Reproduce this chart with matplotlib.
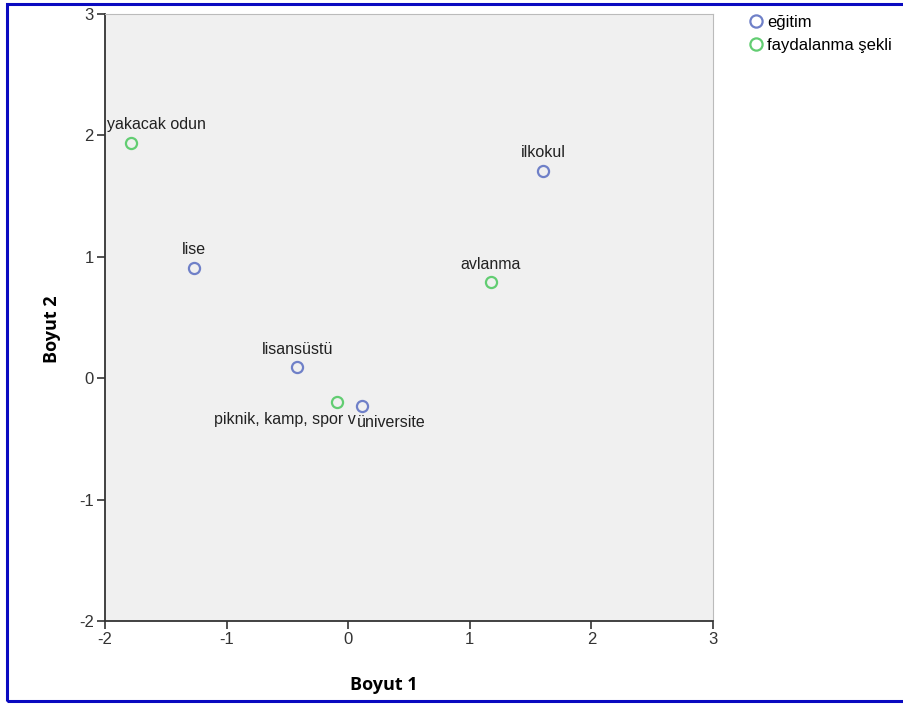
import matplotlib
matplotlib.use('Agg')
import matplotlib.pyplot as plt
from matplotlib.patches import Rectangle

plt.rcParams['font.family'] = ['Liberation Sans', 'DejaVu Sans']
plt.rcParams['axes.unicode_minus'] = False

# egitim (education) category points
edu_labels = ['ilkokul', 'lise', 'lisansüstü', 'üniversite']
edu_x = [1.60, -1.27, -0.42, 0.11]
edu_y = [1.71, 0.91, 0.09, -0.23]

# faydalanma sekli (usage type) category points
use_labels = ['yakacak odun', 'avlanma', 'piknik, kamp, spor v']
use_x = [-1.79, 1.17, -0.09]
use_y = [1.94, 0.79, -0.20]

blue = '#6f80c8'
green = '#62cd72'

fig = plt.figure(figsize=(9.04, 7.04), dpi=100)
ax = fig.add_axes([0.1162, 0.1179, 0.6726, 0.8622])
ax.set_facecolor('#f0f0f0')

ax.plot(edu_x, edu_y, 'o', ms=8, mfc='none', mec=blue, mew=1.6, linestyle='none', label='eğitim')
ax.plot(use_x, use_y, 'o', ms=8, mfc='none', mec=green, mew=1.6, linestyle='none', label='faydalanma şekli')

# point labels: most sit above the marker, the two near the origin below,
# and the one near the left edge is pushed inside the plot area
lab_font = dict(fontsize=11.5, color='#222222', va='center')
for lbl, x, y in zip(edu_labels, edu_x, edu_y):
    if lbl == 'üniversite':
        ax.annotate(lbl, (x, y), xytext=(-3.5, -12), textcoords='offset points',
                    ha='left', **lab_font)
    else:
        ax.annotate(lbl, (x, y), xytext=(0, 13), textcoords='offset points',
                    ha='center', **lab_font)
for lbl, x, y in zip(use_labels, use_x, use_y):
    if lbl.startswith('piknik'):
        ax.annotate(lbl, (x, y), xytext=(13, -12), textcoords='offset points',
                    ha='right', **lab_font)
    elif lbl == 'yakacak odun':
        ax.annotate(lbl, (x, y), xytext=(-17, 13), textcoords='offset points',
                    ha='left', **lab_font)
    else:
        ax.annotate(lbl, (x, y), xytext=(0, 13), textcoords='offset points',
                    ha='center', **lab_font)

ax.set_xlim(-2, 3)
ax.set_ylim(-2, 3)
ax.set_xticks([-2, -1, 0, 1, 2, 3])
ax.set_yticks([-2, -1, 0, 1, 2, 3])
ax.tick_params(direction='out', length=6, width=1.2, colors='#333333', labelsize=12, pad=2)
for s in ['left', 'bottom']:
    ax.spines[s].set_color('#333333')
    ax.spines[s].set_linewidth(1.3)
for s in ['top', 'right']:
    ax.spines[s].set_color('#bbbbbb')
    ax.spines[s].set_linewidth(0.8)

ax.set_xlabel('Boyut 1', fontsize=13, fontweight='bold', family='Open Sans')
ax.set_ylabel('Boyut 2', fontsize=13, fontweight='bold', family='Open Sans')
ax.xaxis.set_label_coords(0.459, -0.09)
ax.yaxis.set_label_coords(-0.072, 0.48)

fig.legend(loc='upper left', bbox_to_anchor=(0.818, 0.988), frameon=False,
           fontsize=12, handletextpad=0.05, borderaxespad=0, labelspacing=0.45,
           handlelength=1.2, markerscale=1.1)

# blue frame around the whole figure
fig.patches.append(Rectangle((0.008, 0.004), 1.1, 0.99, transform=fig.transFigure,
                             fill=False, edgecolor='#0a0ac0', linewidth=2.2))

fig.savefig('out.png', dpi=100)
